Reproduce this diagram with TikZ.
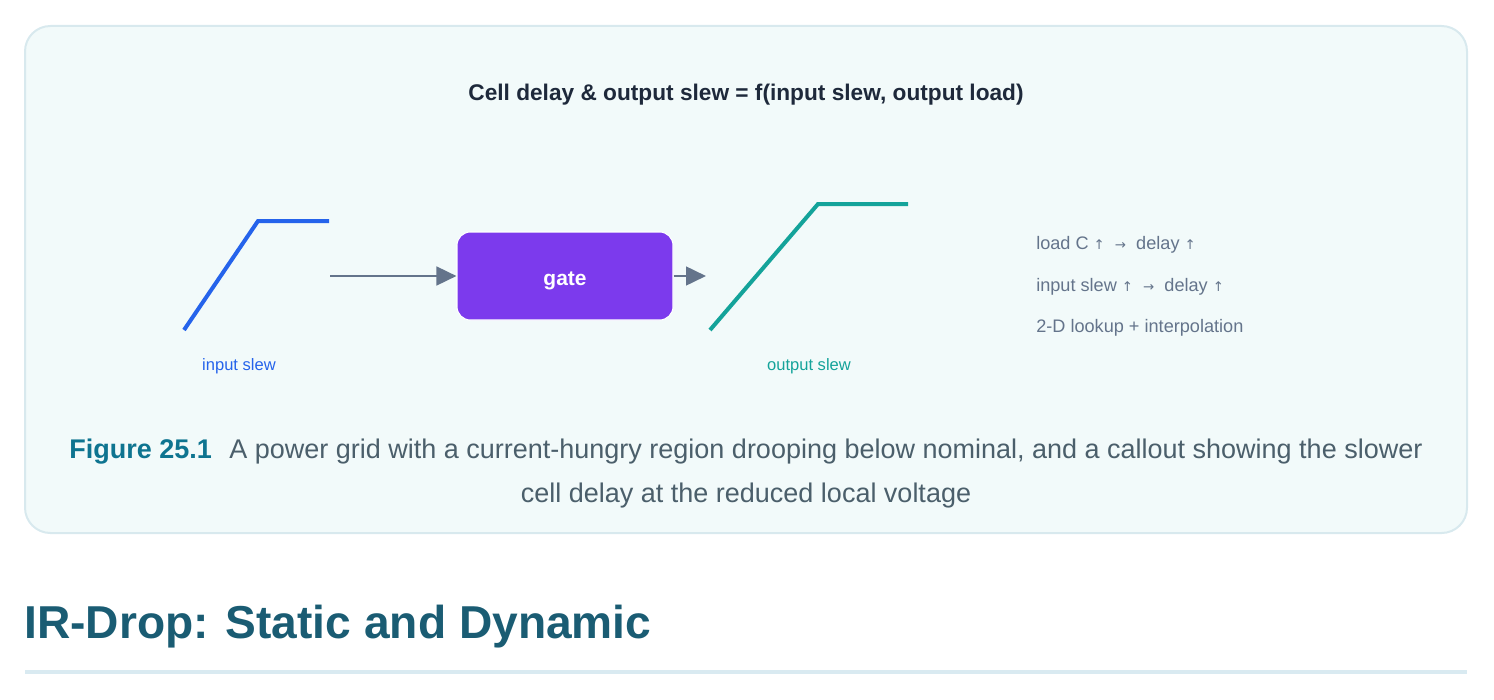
\documentclass[tikz,border=0pt]{standalone}
\usepackage{fontspec}
\setmainfont{Liberation Sans}
\newfontfamily\arrowfont{DejaVu Sans}
\usetikzlibrary{arrows.meta}

\definecolor{panelfill}{HTML}{F2FAFA}
\definecolor{panelline}{HTML}{D8E9EE}
\definecolor{titleink}{HTML}{1E293B}
\definecolor{inblue}{HTML}{2563EB}
\definecolor{outteal}{HTML}{14A39A}
\definecolor{flowgray}{HTML}{64748B}
\definecolor{gatepurple}{HTML}{7C3AED}
\definecolor{noteink}{HTML}{64748B}
\definecolor{figteal}{HTML}{0E7490}
\definecolor{capink}{HTML}{4B5F6B}
\definecolor{headink}{HTML}{1A5C73}
\definecolor{ruleline}{HTML}{D9EAF1}

\newcommand{\up}{{\arrowfont\fontsize{10pt}{10pt}\selectfont ↑}}
\newcommand{\yields}{{\arrowfont\fontsize{10pt}{10pt}\selectfont →}}

\begin{document}
\begin{tikzpicture}[
      x=0.75pt,
      y=-0.75pt,
      every node/.style={inner sep=0pt},
      slew/.style={line width=3pt},
      flow/.style={draw=flowgray, line width=2pt,
        -{Triangle[length=15pt, width=14pt]}},
      gatebox/.style={draw=white, line width=0.8pt, fill=gatepurple,
        rounded corners=10pt, minimum width=162pt, minimum height=66pt,
        text height=13.7pt, text depth=0pt,
        text=white, font=\fontsize{15.7pt}{18pt}\selectfont\bfseries},
      slewlabel/.style={font=\fontsize{12.4pt}{14pt}\selectfont},
      note/.style={anchor=west, text=noteink,
        font=\fontsize{13.6pt}{16pt}\selectfont}]
    \useasboundingbox (0,0) rectangle (1494,699);

    % caption panel
    \draw[draw=panelline, fill=panelfill, line width=1.5pt,
      rounded corners=19pt] (25,26) rectangle (1467,533);

    \node[text=titleink, font=\fontsize{17pt}{20pt}\selectfont\bfseries]
      (title) at (746,95) {Cell delay \& output slew = f(input slew, output load)};

    % input waveform, gate, output waveform
    \draw[slew, inblue]  (184,330) -- (258,221) -- (329,221);
    \draw[slew, outteal] (710,330) -- (818,204) -- (908,204);

    \node[gatebox] (gate) at (565,276) {gate};
    \coordinate (in)  at (330,276);
    \coordinate (out) at (706,276);
    \draw[flow] (in) -- (gate);
    \draw[flow] (gate) -- (out);

    \node[slewlabel, text=inblue]  (inlbl)  at (239,366) {input slew};
    \node[slewlabel, text=outteal] (outlbl) at (809,366) {output slew};

    % side notes
    \node[note] (load)   at (1036,245) {load C \up\ \ \yields\ \ delay \up};
    \node[note] (inrule) at (1036,287) {input slew \up\ \ \yields\ \ delay \up};
    \node[note] (lookup) at (1036,328) {2-D lookup + interpolation};

    % figure caption
    \node[font=\fontsize{20.25pt}{24pt}\selectfont, text=capink] (cap1) at (746,452)
      {\textcolor{figteal}{\bfseries Figure 25.1}\hspace{13pt}A power grid with a current-hungry region drooping below nominal, and a callout showing the slower};
    \node[font=\fontsize{20.25pt}{24pt}\selectfont, text=capink] (cap2) at (746,496)
      {cell delay at the reduced local voltage};

    % section heading below the figure
    \node[anchor=base west, text=headink,
      font=\fontsize{34.6pt}{40pt}\selectfont\bfseries] (heading) at (24,638)
      {IR-Drop: Static and Dynamic};
    \draw[ruleline, line width=3pt] (25,672) -- (1467,672);

  \end{tikzpicture}
\end{document}
